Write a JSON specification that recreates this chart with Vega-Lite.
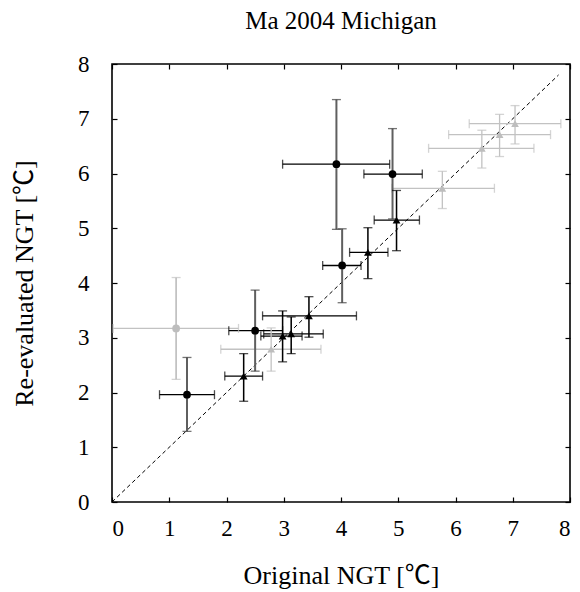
{
  "$schema": "https://vega.github.io/schema/vega-lite/v6.json",
  "autosize": "none",
  "width": 458,
  "height": 438,
  "padding": {"left": 112, "top": 64, "right": 10, "bottom": 90},
  "background": "white",
  "config": {
    "font": "Liberation Serif",
    "view": {"stroke": "black", "strokeWidth": 1.6},
    "axis": {"grid": false, "domain": false, "tickColor": "black", "tickSize": -5, "tickWidth": 1.2,
             "labelFont": "Liberation Serif", "labelFontSize": 23, "labelColor": "black",
             "titleFont": "Liberation Serif, Noto Sans CJK JP", "titleFontSize": 26, "titleFontWeight": "normal", "titleColor": "black"}
  },
  "title": {"text": "Ma 2004 Michigan", "font": "Liberation Serif", "fontSize": 25, "fontWeight": "normal", "color": "black", "offset": 19},
  "datasets": {
    "pts": [
      {"series": "B", "x": 1.12, "y": 3.17, "xlo": 0.02, "xhi": 2.21, "ylo": 2.24, "yhi": 4.10},
      {"series": "D", "x": 2.78, "y": 2.79, "xlo": 1.90, "xhi": 3.65, "ylo": 2.39, "yhi": 3.18},
      {"series": "D", "x": 5.77, "y": 5.73, "xlo": 4.89, "xhi": 6.68, "ylo": 5.36, "yhi": 6.04},
      {"series": "D", "x": 6.46, "y": 6.46, "xlo": 5.53, "xhi": 7.37, "ylo": 6.10, "yhi": 6.79},
      {"series": "D", "x": 6.77, "y": 6.71, "xlo": 5.88, "xhi": 7.66, "ylo": 6.31, "yhi": 7.08},
      {"series": "D", "x": 7.04, "y": 6.91, "xlo": 6.24, "xhi": 7.84, "ylo": 6.54, "yhi": 7.24},
      {"series": "A", "x": 1.31, "y": 1.96, "xlo": 0.83, "xhi": 1.79, "ylo": 1.29, "yhi": 2.64},
      {"series": "A", "x": 2.50, "y": 3.13, "xlo": 2.04, "xhi": 2.98, "ylo": 2.39, "yhi": 3.87},
      {"series": "A", "x": 4.02, "y": 4.32, "xlo": 3.68, "xhi": 4.35, "ylo": 3.64, "yhi": 4.99},
      {"series": "A", "x": 3.92, "y": 6.17, "xlo": 2.98, "xhi": 4.85, "ylo": 4.98, "yhi": 7.35},
      {"series": "A", "x": 4.90, "y": 5.99, "xlo": 4.40, "xhi": 5.42, "ylo": 5.17, "yhi": 6.82},
      {"series": "C", "x": 2.30, "y": 2.30, "xlo": 1.97, "xhi": 2.63, "ylo": 1.84, "yhi": 2.71},
      {"series": "C", "x": 2.98, "y": 3.03, "xlo": 2.60, "xhi": 3.32, "ylo": 2.56, "yhi": 3.49},
      {"series": "C", "x": 3.13, "y": 3.07, "xlo": 2.65, "xhi": 3.69, "ylo": 2.71, "yhi": 3.38},
      {"series": "C", "x": 3.44, "y": 3.40, "xlo": 2.63, "xhi": 4.27, "ylo": 3.01, "yhi": 3.75},
      {"series": "C", "x": 4.47, "y": 4.56, "xlo": 4.15, "xhi": 4.82, "ylo": 4.08, "yhi": 5.01},
      {"series": "C", "x": 4.97, "y": 5.15, "xlo": 4.58, "xhi": 5.37, "ylo": 4.59, "yhi": 5.69}
    ],
    "diag": [{"x": 0, "y": 0}, {"x": 7.8, "y": 7.8}]
  },
  "resolve": {"scale": {"color": "independent", "shape": "independent"}, "axis": {"x": "independent", "y": "independent"}},
  "layer": [
    {
      "data": {"name": "diag"},
      "mark": {"type": "line", "color": "black", "strokeWidth": 1, "strokeDash": [4, 3]},
      "encoding": {
        "x": {"field": "x", "type": "quantitative", "scale": {"domain": [0, 8], "nice": false},
              "axis": {"orient": "top", "labels": false, "title": null, "values": [0,1,2,3,4,5,6,7,8]}},
        "y": {"field": "y", "type": "quantitative", "scale": {"domain": [0, 8], "nice": false},
              "axis": {"orient": "right", "labels": false, "title": null, "values": [0,1,2,3,4,5,6,7,8]}}
      }
    },
    {
      "data": {"name": "pts"},
      "mark": {"type": "rule", "strokeWidth": 1.3},
      "encoding": {
        "x": {"field": "xlo", "type": "quantitative", "axis": null},
        "x2": {"field": "xhi"},
        "y": {"field": "y", "type": "quantitative", "axis": null},
        "color": {"field": "series", "type": "nominal", "legend": null,
                  "scale": {"domain": ["A", "B", "C", "D"], "range": ["#000000", "#c2c2c2", "#000000", "#c2c2c2"]}}
      }
    },
    {
      "data": {"name": "pts"},
      "transform": [{"fold": ["xlo", "xhi"], "as": ["end", "xe"]}],
      "mark": {"type": "tick", "orient": "vertical", "size": 9, "thickness": 1.3},
      "encoding": {
        "x": {"field": "xe", "type": "quantitative", "axis": null},
        "y": {"field": "y", "type": "quantitative", "axis": null},
        "color": {"field": "series", "type": "nominal", "legend": null,
                  "scale": {"domain": ["A", "B", "C", "D"], "range": ["#000000", "#c2c2c2", "#000000", "#c2c2c2"]}}
      }
    },
    {
      "data": {"name": "pts"},
      "mark": {"type": "rule"},
      "encoding": {
        "x": {"field": "x", "type": "quantitative", "axis": null},
        "y": {"field": "ylo", "type": "quantitative", "axis": null},
        "y2": {"field": "yhi"},
        "strokeWidth": {"field": "series", "type": "nominal", "legend": null,
                  "scale": {"domain": ["A", "B", "C", "D"], "range": [2, 1.3, 1.3, 1.3]}},
        "color": {"field": "series", "type": "nominal", "legend": null,
                  "scale": {"domain": ["A", "B", "C", "D"], "range": ["#5f5f5f", "#c2c2c2", "#000000", "#c2c2c2"]}}
      }
    },
    {
      "data": {"name": "pts"},
      "transform": [{"fold": ["ylo", "yhi"], "as": ["end", "ye"]}],
      "mark": {"type": "tick", "orient": "horizontal", "size": 9, "thickness": 1.3},
      "encoding": {
        "x": {"field": "x", "type": "quantitative", "axis": null},
        "y": {"field": "ye", "type": "quantitative", "axis": null},
        "color": {"field": "series", "type": "nominal", "legend": null,
                  "scale": {"domain": ["A", "B", "C", "D"], "range": ["#3a3a3a", "#c2c2c2", "#000000", "#c2c2c2"]}}
      }
    },
    {
      "data": {"name": "pts"},
      "mark": {"type": "point", "filled": true, "opacity": 1},
      "encoding": {
        "x": {"field": "x", "type": "quantitative",
              "axis": {"orient": "bottom", "title": "Original NGT [℃]", "values": [0,1,2,3,4,5,6,7,8], "labelPadding": 20, "titlePadding": 22}},
        "y": {"field": "y", "type": "quantitative",
              "axis": {"orient": "left", "title": "Re-evaluated NGT [℃]", "values": [0,1,2,3,4,5,6,7,8], "labelPadding": 28, "titlePadding": 40}},
        "shape": {"field": "series", "type": "nominal", "legend": null,
                  "scale": {"domain": ["A", "B", "C", "D"], "range": ["circle", "circle", "triangle-up", "triangle-up"]}},
        "size": {"field": "series", "type": "nominal", "legend": null,
                  "scale": {"domain": ["A", "B", "C", "D"], "range": [60, 60, 45, 45]}},
        "color": {"field": "series", "type": "nominal", "legend": null,
                  "scale": {"domain": ["A", "B", "C", "D"], "range": ["#000000", "#bdbdbd", "#000000", "#bdbdbd"]}}
      }
    }
  ]
}
